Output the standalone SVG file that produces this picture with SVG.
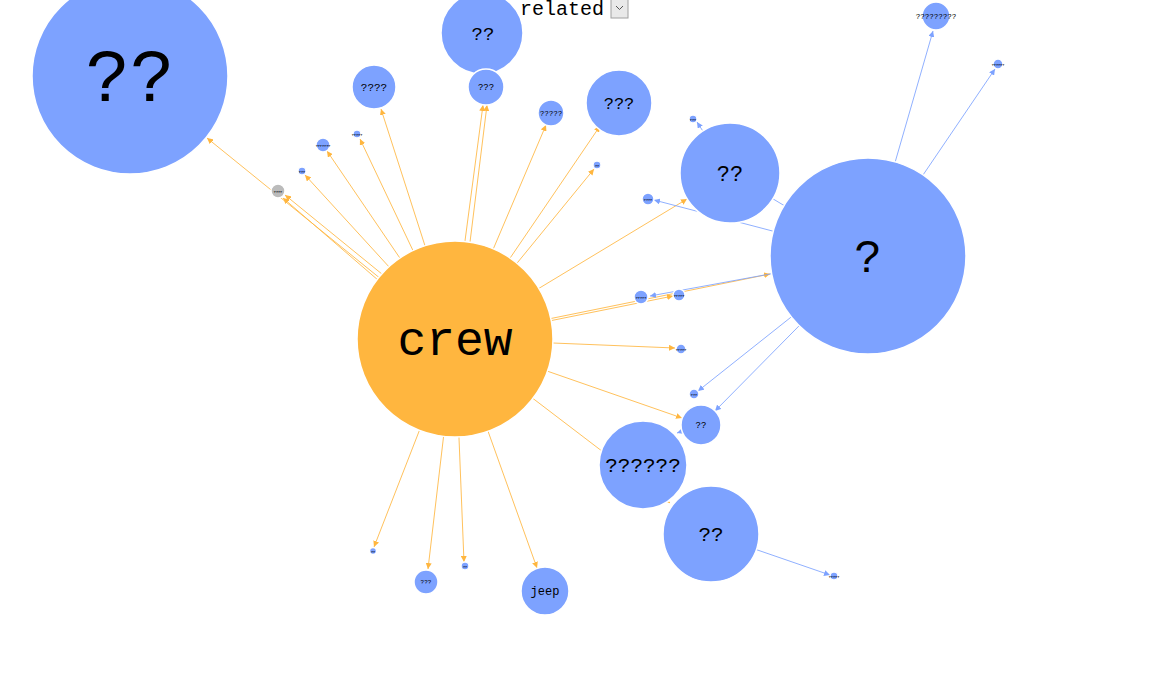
<svg xmlns="http://www.w3.org/2000/svg" width="1151" height="673" viewBox="0 0 1151 673">
<defs>
<marker id="ao" viewBox="0 0 10 10" refX="10" refY="5" markerWidth="6" markerHeight="6" markerUnits="userSpaceOnUse" orient="auto"><path d="M0,0L10,5L0,10z" fill="#ffb63f"/></marker>
<marker id="ab" viewBox="0 0 10 10" refX="10" refY="5" markerWidth="6" markerHeight="6" markerUnits="userSpaceOnUse" orient="auto"><path d="M0,0L10,5L0,10z" fill="#7da2ff"/></marker>
</defs>
<style>
.o{stroke:#ffb63f;stroke-width:1;stroke-opacity:0.85;marker-end:url(#ao)}
.b{stroke:#7da2ff;stroke-width:1;stroke-opacity:0.85;marker-end:url(#ab)}
.n{fill:#7da2ff;stroke:#fff;stroke-width:1.5}
.c{fill:#ffb63f;stroke:#fff;stroke-width:1.5}
.g{fill:#bbbbbb;stroke:#fff;stroke-width:1.5}
text{font-family:"Liberation Mono","DejaVu Sans Mono",monospace;text-anchor:middle;fill:#000}
.t{font-size:3.5px;font-weight:bold}
</style>
<rect width="1151" height="673" fill="#fff"/>
<text x="562" y="15" font-size="20">related</text>
<g id="dropdown"><rect x="611" y="-2" width="17" height="20" fill="#e9e9e9" stroke="#a0a0a0"/><polyline points="616,6 619.5,9.5 623,6" fill="none" stroke="#555" stroke-width="1"/></g>
<g id="connectors">
<line class="o" x1="455" y1="339" x2="207" y2="138"/>
<line class="o" x1="452" y1="344" x2="283" y2="198"/>
<line class="o" x1="458" y1="336" x2="285" y2="195"/>
<line class="o" x1="455" y1="339" x2="305" y2="175"/>
<line class="o" x1="455" y1="339" x2="327" y2="151"/>
<line class="o" x1="455" y1="339" x2="360" y2="139"/>
<line class="o" x1="455" y1="339" x2="381" y2="109"/>
<line class="o" x1="452" y1="339" x2="483" y2="105"/>
<line class="o" x1="458" y1="339" x2="487" y2="105"/>
<line class="o" x1="455" y1="339" x2="546" y2="125"/>
<line class="o" x1="455" y1="339" x2="600" y2="126"/>
<line class="o" x1="455" y1="339" x2="594" y2="169"/>
<line class="o" x1="455" y1="339" x2="687" y2="199"/>
<line class="o" x1="455" y1="340" x2="673" y2="296"/>
<line class="o" x1="455" y1="338" x2="770" y2="274"/>
<line class="o" x1="455" y1="339" x2="675" y2="348"/>
<line class="o" x1="455" y1="339" x2="682" y2="418"/>
<line class="o" x1="455" y1="339" x2="670" y2="503"/>
<line class="o" x1="455" y1="339" x2="537" y2="568"/>
<line class="o" x1="455" y1="339" x2="464" y2="562"/>
<line class="o" x1="455" y1="339" x2="428" y2="569"/>
<line class="o" x1="455" y1="339" x2="374" y2="547"/>
<line class="b" x1="868" y1="256" x2="933" y2="31"/>
<line class="b" x1="868" y1="256" x2="995" y2="69"/>
<line class="b" x1="868" y1="256" x2="730" y2="173" style="marker-end:none"/>
<line class="b" x1="868" y1="256" x2="654" y2="200"/>
<line class="b" x1="730" y1="173" x2="697" y2="122"/>
<line class="b" x1="868" y1="256" x2="650" y2="296"/>
<line class="b" x1="868" y1="256" x2="698" y2="391"/>
<line class="b" x1="868" y1="256" x2="715" y2="411"/>
<line class="b" x1="701" y1="425" x2="677" y2="433"/>
<line class="b" x1="711" y1="534" x2="830" y2="575"/>
</g>
<g id="n-crew"><circle class="c" cx="455" cy="339" r="98"/><text x="455" y="355" font-size="48">crew</text></g>
<g id="n-big"><circle class="n" cx="130" cy="76" r="98"/><text x="130" y="101" font-size="74">??</text></g>
<g id="n-top"><circle class="n" cx="482" cy="33" r="41"/><text x="483" y="40" font-size="19">??</text></g>
<g id="n-3a"><circle class="n" cx="486" cy="87" r="18"/><text x="486" y="90" font-size="9">???</text></g>
<g id="n-4"><circle class="n" cx="374" cy="87" r="22"/><text x="374" y="91" font-size="11">????</text></g>
<g id="n-5"><circle class="n" cx="551" cy="113" r="13"/><text x="551" y="116" font-size="7.5">?????</text></g>
<g id="n-3b"><circle class="n" cx="619" cy="103" r="33"/><text x="619" y="109" font-size="17">???</text></g>
<g id="n-2a"><circle class="n" cx="730" cy="173" r="50"/><text x="730" y="181" font-size="22">??</text></g>
<g id="n-q"><circle class="n" cx="868" cy="256" r="98"/><text x="868" y="272" font-size="46">?</text></g>
<g id="n-9"><circle class="n" cx="936" cy="16" r="14"/><text x="936" y="19" font-size="7.5">?????????</text></g>
<g id="n-s1"><circle class="n" cx="998" cy="64" r="5"/><text class="t" x="998" y="65.5">??????</text></g>
<g id="n-s2"><circle class="n" cx="693" cy="119" r="4"/><text class="t" x="693" y="120.5">???</text></g>
<g id="n-s3"><circle class="n" cx="648" cy="199" r="6"/><text class="t" x="648" y="200.5">????</text></g>
<g id="n-s4"><circle class="n" cx="597" cy="165" r="4"/><text class="t" x="597" y="166.5">??</text></g>
<g id="n-s5"><circle class="n" cx="641" cy="297" r="7"/><text class="t" x="641" y="298.5">?????</text></g>
<g id="n-s6"><circle class="n" cx="679" cy="295" r="6"/><text class="t" x="679" y="296.5">?????</text></g>
<g id="n-s7"><circle class="n" cx="681" cy="349" r="5"/><text class="t" x="681" y="350.5">?????</text></g>
<g id="n-s8"><circle class="n" cx="694" cy="394" r="5"/><text class="t" x="694" y="395.5">???</text></g>
<g id="n-2b"><circle class="n" cx="701" cy="425" r="20"/><text x="701" y="428" font-size="9">??</text></g>
<g id="n-6"><circle class="n" cx="643" cy="465" r="44"/><text x="643" y="472" font-size="21">??????</text></g>
<g id="n-2c"><circle class="n" cx="711" cy="534" r="48"/><text x="711" y="541" font-size="21">??</text></g>
<g id="n-s9"><circle class="n" cx="834" cy="576" r="4"/><text class="t" x="834" y="577.5">?????</text></g>
<g id="n-jeep"><circle class="n" cx="545" cy="591" r="24"/><text x="545" y="595" font-size="12">jeep</text></g>
<g id="n-3c"><circle class="n" cx="426" cy="582" r="12"/><text x="426" y="584" font-size="6">???</text></g>
<g id="n-s10"><circle class="n" cx="373" cy="551" r="3.5"/><text class="t" x="373" y="552.5">??</text></g>
<g id="n-s11"><circle class="n" cx="465" cy="566" r="4"/><text class="t" x="465" y="567.5">??</text></g>
<g id="n-gray"><circle class="g" cx="278" cy="191" r="7"/><text class="t" x="278" y="192.5">????</text></g>
<g id="n-s12"><circle class="n" cx="302" cy="171" r="4"/><text class="t" x="302" y="172.5">???</text></g>
<g id="n-s13"><circle class="n" cx="323" cy="145" r="7"/><text class="t" x="323" y="146.5">???????</text></g>
<g id="n-s14"><circle class="n" cx="357" cy="134" r="4"/><text class="t" x="357" y="135.5">?????</text></g>
</svg>
